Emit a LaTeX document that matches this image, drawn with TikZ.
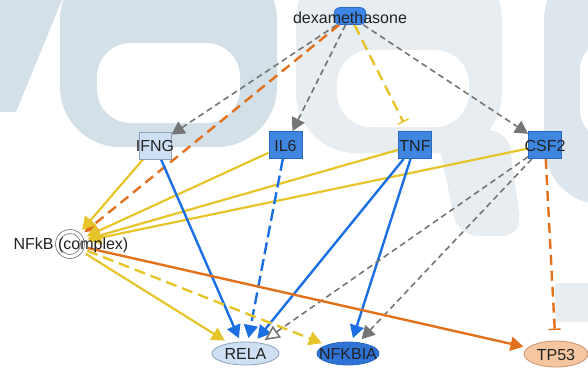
\documentclass[tikz,border=0pt]{standalone}
\usepackage{fontspec}
\setmainfont{Liberation Sans}
\usetikzlibrary{arrows.meta,shapes.geometric}
\pgfdeclarelayer{wm}
\pgfdeclarelayer{edges}
\pgfsetlayers{wm,edges,main}
\definecolor{wmdark}{HTML}{D4E0E7}
\definecolor{wmmid}{HTML}{DCE6EC}
\definecolor{wmlight}{HTML}{E7EDF1}
\definecolor{greyline}{HTML}{767676}
\definecolor{orangeline}{HTML}{E2711D}
\definecolor{yellowline}{HTML}{E6C52A}
\definecolor{blueline}{HTML}{1B6FE3}
\definecolor{lightfill}{HTML}{CFE0F5}
\definecolor{lightborder}{HTML}{8EA2B8}
\definecolor{midblue}{HTML}{3F86E0}
\definecolor{boxborder}{HTML}{2A68BE}
\definecolor{darkfill}{HTML}{2F73D6}
\definecolor{tpfill}{HTML}{F6C6A0}
\definecolor{tpborder}{HTML}{C99470}
\definecolor{ringgrey}{HTML}{8A8A8A}
\definecolor{txt}{HTML}{222222}
\begin{document}
\begin{tikzpicture}[x=1pt,y=-1pt,
  font=\fontsize{16}{18}\selectfont,
  lbl/.style={inner sep=0pt, text=txt},
  boxlight/.style={rectangle, draw=lightborder, fill=lightfill, line width=0.8pt, minimum width=32pt, minimum height=27pt, inner sep=0pt},
  boxblue/.style={rectangle, draw=boxborder, fill=midblue, line width=0.8pt, minimum width=33pt, minimum height=27pt, inner sep=0pt},
  ellnode/.style={ellipse, inner sep=0pt, line width=0.8pt, outer sep=4pt},
  arrtip/.style={-{Triangle[length=13pt,width=14pt]}},
  openarr/.style={-{Triangle[open,length=15pt,width=14pt,fill=white]}},
  barend/.style={-{Bar[width=12pt,line width=1.4pt]}},
  gdash/.style={draw=greyline, line width=1.6pt, dash pattern=on 6pt off 4pt},
  odash/.style={draw=orangeline, line width=2.4pt, dash pattern=on 10pt off 6pt},
  osolid/.style={draw=orangeline, line width=2.4pt},
  ydash/.style={draw=yellowline, line width=2.4pt, dash pattern=on 11pt off 6pt},
  ysolid/.style={draw=yellowline, line width=2.2pt},
  bsolid/.style={draw=blueline, line width=2.4pt},
  bdash/.style={draw=blueline, line width=2.4pt, dash pattern=on 12pt off 5pt}
]
\useasboundingbox (0,0) rectangle (588,368);

% watermark (drawn in an unflipped frame)
\begin{pgfonlayer}{wm}
\begin{scope}[x=1pt,y=1pt]
\clip (0,0) rectangle (588,-368);
\fill[wmdark] (0,0) -- (62,0) -- (16,-112) -- (0,-112) -- cycle;
\fill[wmdark, rounded corners=60pt] (60,40) rectangle (277,-147);
\fill[white, rounded corners=34pt] (97,-43) rectangle (240,-123);
\fill[wmlight, rounded corners=20pt] (436,-130) -- (508,-130) -- (522,-236) -- (458,-236) -- cycle;
\fill[wmlight, rounded corners=60pt] (296,40) rectangle (502,-153);
\fill[white, rounded corners=34pt] (337,-50) rectangle (469,-127);
\fill[wmmid, rounded corners=60pt] (544,40) rectangle (720,-205);
\fill[white, rounded corners=30pt] (580,-40) rectangle (700,-140);
\fill[wmlight] (555,-283) rectangle (600,-322);
\end{scope}
\end{pgfonlayer}

% nodes
\node[rectangle, rounded corners=6pt, fill=blueline!85!white, draw=boxborder, line width=0.6pt, minimum width=32pt, minimum height=17pt, inner sep=0pt] (dexa) at (350,16) {};
\node[lbl] (dexat) at (350,18) {dexamethasone};

\node[boxlight] (ifng) at (155,145.5) {};
\node[lbl] (ifngt) at (155,146) {IFNG};
\node[boxblue] (il6) at (285.5,145) {};
\node[lbl] (il6t) at (285.5,146) {IL6};
\node[boxblue] (tnf) at (415,145) {};
\node[lbl] (tnft) at (415,146) {TNF};
\node[boxblue] (csf2) at (545,145) {};
\node[lbl] (csf2t) at (545,146) {CSF2};

\node[circle, draw=ringgrey, fill=white, line width=0.8pt, minimum size=29pt, inner sep=0pt, outer sep=4pt] (nfkb) at (70,244) {};
\node[circle, draw=ringgrey, line width=0.8pt, minimum size=21pt, inner sep=0pt] (nfkbin) at (70,244) {};
\node[lbl] (nfkbt) at (71,245) {NFkB (complex)};

\node[ellnode, draw=lightborder, fill=lightfill, minimum width=67pt, minimum height=23pt] (rela) at (245.5,353.5) {};
\node[lbl] (relat) at (245.5,354) {RELA};
\node[ellnode, draw=boxborder, fill=darkfill, minimum width=62pt, minimum height=23pt] (nfkbia) at (348,353.5) {};
\node[lbl] (nfkbiat) at (348,354) {NFKBIA};
\node[ellnode, draw=tpborder, fill=tpfill, minimum width=64pt, minimum height=26pt] (tp53) at (556,354) {};
\node[lbl] (tp53t) at (556,354.5) {TP53};

% edges
\begin{pgfonlayer}{edges}
\draw[gdash, arrtip] (dexa) -- (ifng);
\draw[odash, arrtip] (dexa) -- (nfkb);
\draw[gdash, arrtip] (dexa) -- (il6);
\draw[ydash, barend, shorten >=10pt] (dexa) -- (tnf);
\draw[gdash, arrtip] (dexa) -- (csf2);

\draw[ysolid, arrtip] (ifng) -- (nfkb);
\draw[ysolid, arrtip] (il6) -- (nfkb);
\draw[ysolid, arrtip] (tnf) -- (nfkb);
\draw[ysolid, arrtip] (csf2) -- (nfkb);

\draw[bsolid, arrtip] (ifng) -- (rela);
\draw[bdash, arrtip] (il6) -- (rela);
\draw[bsolid, arrtip] (tnf) -- (rela);
\draw[bsolid, arrtip] (tnf) -- (nfkbia);
\draw[gdash, openarr] (csf2) -- (rela);
\draw[gdash, arrtip] (csf2) -- (nfkbia);
\draw[odash, barend, shorten >=7pt] (csf2) -- (tp53);

\draw[ysolid, arrtip] (nfkb) -- (rela);
\draw[ydash, arrtip] (nfkb) -- (nfkbia);
\draw[osolid, arrtip] (nfkb) -- (tp53);
\end{pgfonlayer}
\end{tikzpicture}
\end{document}
